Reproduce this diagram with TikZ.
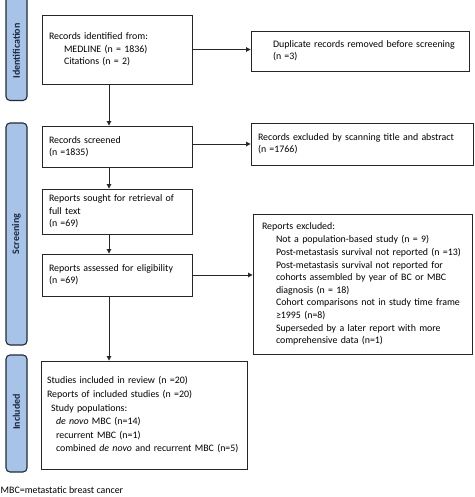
\documentclass[tikz,border=0pt]{standalone}
\usepackage{fontspec}
\setmainfont{Carlito}
\usetikzlibrary{arrows.meta}
\definecolor{barfill}{HTML}{A7C4E8}
\definecolor{barline}{HTML}{222B38}
\definecolor{bartext}{HTML}{1B2640}
\begin{document}
\begin{tikzpicture}[x=1pt,y=-1pt,
  font=\fontsize{9.9}{12.3}\selectfont,
  box/.style={draw=black!85, line width=0.9pt, align=left, inner xsep=8pt, inner ysep=2pt, fill=white},
  bar/.style={draw=barline, line width=1.1pt, fill=barfill, rounded corners=4pt, rotate=90, minimum height=21pt, inner sep=0pt},
  barlabel/.style={rotate=90, font=\fontsize{10}{11}\selectfont\bfseries, text=bartext},
  arr/.style={line width=0.9pt, black!85, -{Triangle[length=4.5pt,width=4.5pt]}}
]
\useasboundingbox (0,0) rectangle (474,497);

% side bars
\node[bar, minimum width=107pt] (bid) at (16.5,47) {};
\node[barlabel] (lid) at (16.5,51) {Identification};
\node[bar, minimum width=222pt] (bsc) at (16.5,234) {};
\node[barlabel] (lsc) at (16.5,234) {Screening};
\node[bar, minimum width=117pt] (bin) at (16.5,413.5) {};
\node[barlabel] (lin) at (16.5,412) {Included};

% main column
\node[box, text width=136pt, inner xsep=7pt, minimum height=69pt] (ident) at (117,49.5) {Records identified from:\\
\hspace*{15pt}MEDLINE (n = 1836)\\
\hspace*{15pt}Citations (n = 2)};
\node[box, text width=136pt, inner xsep=7pt, minimum height=41pt] (scr) at (117,146.5) {Records screened\\(n =1835)};
\node[box, text width=136pt, inner xsep=7pt, minimum height=45pt] (sought) at (117,211.5) {Reports sought for retrieval of\\full text\\(n =69)};
\node[box, text width=136pt, inner xsep=7pt, minimum height=42pt] (assess) at (117,275) {Reports assessed for eligibility\\(n =69)};
\node[box, text width=194pt, inner xsep=6pt, minimum height=108pt] (incl) at (144,415) {Studies included in review (n =20)\\[1.3pt]
Reports of included studies (n =20)\\[1.3pt]
\hspace*{4pt}Study populations:\\[1.3pt]
\hspace*{9pt}\textit{de novo} MBC (n=14)\\[1.3pt]
\hspace*{9pt}recurrent MBC (n=1)\\[1.3pt]
\hspace*{9pt}combined \textit{de novo} and recurrent MBC (n=5)};

% right column
\node[box, text width=204pt, inner xsep=7pt, minimum height=40pt] (dup) at (360,51) {\hspace*{15pt}Duplicate records removed before screening\\\hspace*{15pt}(n =3)};
\node[box, text width=208pt, inner xsep=7pt, minimum height=42pt] (excl) at (362,144) {Records excluded by scanning title and abstract\\(n =1766)};
\node[box, text width=205pt, inner xsep=7pt, minimum height=140pt] (rep) at (362.5,284) {\hspace*{2pt}Reports excluded:\\[0.6pt]
\hspace*{16pt}Not a population-based study (n = 9)\\[0.6pt]
\hspace*{16pt}Post-metastasis survival not reported (n =13)\\[0.6pt]
\hspace*{16pt}Post-metastasis survival not reported for\\
\hspace*{16pt}cohorts assembled by year of BC or MBC\\
\hspace*{16pt}diagnosis (n = 18)\\[0.6pt]
\hspace*{16pt}Cohort comparisons not in study time frame\\
\hspace*{16pt}≥1995 (n=8)\\[0.6pt]
\hspace*{16pt}Superseded by a later report with more\\
\hspace*{16pt}comprehensive data (n=1)};

% arrows
\draw[arr] ([xshift=-8pt]ident.south) -- ([xshift=-8pt]scr.north);
\draw[arr] ([xshift=-8pt]scr.south) -- ([xshift=-8pt]sought.north);
\draw[arr] ([xshift=-8pt]sought.south) -- ([xshift=-8pt]assess.north);
\draw[arr] ([xshift=-8pt]assess.south) -- ([xshift=-35pt]incl.north);
\draw[arr] (ident.east) -- (ident.east -| dup.west);
\draw[arr] (excl.west -| scr.east) -- (excl.west);
\draw[arr] (assess.east) -- (assess.east -| rep.west);

% footnote
\node[anchor=west, inner sep=0pt] (foot) at (0.5,490) {MBC=metastatic breast cancer};
\end{tikzpicture}
\end{document}
